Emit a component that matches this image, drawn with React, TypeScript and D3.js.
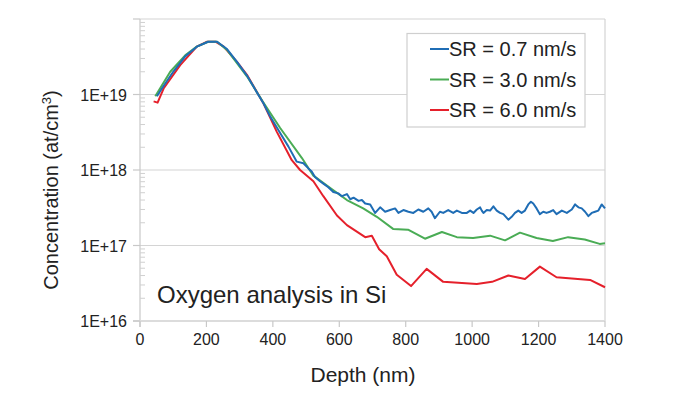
import React from "react";
import * as d3 from "d3";

// ---- Data (depth in nm, concentration in at/cm3) ----
const blueDepth = [51, 66, 100, 136, 171, 205, 232, 262, 292, 322, 372, 392, 422, 447, 472, 492, 507, 517, 527, 542, 552, 567, 582, 597, 608, 623, 633, 643, 658, 668, 678, 693, 708, 723, 738, 753, 768, 778, 793, 808, 823, 838, 853, 868, 878, 888, 903, 913, 928, 943, 954, 969, 984, 994, 1004, 1014, 1024, 1029, 1034, 1044, 1054, 1064, 1074, 1084, 1094, 1109, 1119, 1129, 1139, 1149, 1159, 1169, 1177, 1184, 1194, 1204, 1214, 1224, 1234, 1244, 1254, 1270, 1285, 1300, 1310, 1320, 1330, 1340, 1350, 1360, 1370, 1380, 1390, 1400];
const blueConc = [9.5e18, 1.2e19, 2.0e19, 3.2e19, 4.3e19, 5.0e19, 5.0e19, 4.0e19, 2.7e19, 1.78e19, 7.6e18, 5.1e18, 3.1e18, 2.04e18, 1.29e18, 1.23e18, 1.05e18, 9.55e17, 8.1e17, 7.1e17, 6.6e17, 5.9e17, 5.1e17, 4.9e17, 4.5e17, 4.8e17, 4.1e17, 4.3e17, 3.9e17, 4.0e17, 3.6e17, 3.5e17, 2.7e17, 3.2e17, 2.8e17, 2.95e17, 3.1e17, 2.7e17, 2.95e17, 2.8e17, 2.7e17, 3.0e17, 2.8e17, 3.1e17, 2.8e17, 2.3e17, 2.8e17, 2.7e17, 2.95e17, 2.7e17, 2.9e17, 2.7e17, 2.7e17, 2.9e17, 2.7e17, 3.0e17, 3.2e17, 2.9e17, 2.7e17, 2.95e17, 2.9e17, 3.3e17, 2.9e17, 2.7e17, 2.6e17, 2.2e17, 2.4e17, 2.7e17, 2.9e17, 2.7e17, 2.9e17, 3.5e17, 3.8e17, 3.6e17, 3.1e17, 2.6e17, 2.8e17, 2.7e17, 2.8e17, 2.95e17, 2.6e17, 2.9e17, 2.7e17, 3.0e17, 3.5e17, 3.2e17, 3.1e17, 2.8e17, 2.45e17, 2.7e17, 2.8e17, 2.9e17, 3.5e17, 3.1e17];

const greenDepth = [46, 91, 136, 171, 205, 232, 262, 322, 371, 422, 487, 521, 573, 623, 672, 713, 762, 807, 858, 909, 954, 1003, 1054, 1099, 1144, 1194, 1243, 1289, 1339, 1384, 1400];
const greenConc = [9.5e18, 2.0e19, 3.3e19, 4.3e19, 5.0e19, 5.0e19, 3.9e19, 1.74e19, 7.9e18, 3.6e18, 1.45e18, 8.5e17, 5.75e17, 4.0e17, 3.1e17, 2.4e17, 1.66e17, 1.62e17, 1.23e17, 1.51e17, 1.29e17, 1.26e17, 1.35e17, 1.17e17, 1.48e17, 1.26e17, 1.15e17, 1.29e17, 1.2e17, 1.05e17, 1.07e17];

const redDepth = [41, 53, 71, 121, 171, 202, 227, 252, 292, 322, 372, 412, 457, 482, 522, 552, 593, 623, 678, 698, 720, 743, 773, 816, 863, 913, 1014, 1060, 1109, 1159, 1204, 1254, 1355, 1400];
const redConc = [8.1e18, 7.8e18, 1.2e19, 2.45e19, 4.3e19, 5.0e19, 5.0e19, 4.3e19, 2.7e19, 1.82e19, 7.6e18, 3.2e18, 1.35e18, 1.0e18, 7.1e17, 4.5e17, 2.5e17, 1.86e17, 1.29e17, 1.35e17, 8.9e16, 7.2e16, 4.1e16, 2.9e16, 4.9e16, 3.3e16, 3.1e16, 3.3e16, 4.0e16, 3.6e16, 5.25e16, 3.8e16, 3.5e16, 2.8e16];

const seriesNames = ["SR = 0.7 nm/s", "SR = 3.0 nm/s", "SR = 6.0 nm/s"];
const seriesColors = ["#1f6db5", "#4aac55", "#e5202b"];

const xTicks = [0, 200, 400, 600, 800, 1000, 1200, 1400];
const yTicks = [1e16, 1e17, 1e18, 1e19, 1e20];
const yTickLabels = ["1E+16", "1E+17", "1E+18", "1E+19", ""];

const annotation = "Oxygen analysis in Si";

const FONT = "'Liberation Sans', Arial, Helvetica, sans-serif";

export default function App() {
  const left = 140, right = 605, top = 19, bottom = 321;
  const x = d3.scaleLinear().domain([0, 1400]).range([left, right]);
  const y = d3.scaleLog().domain([1e16, 1e20]).range([bottom, top]);

  const line = d3
    .line<[number, number]>()
    .x((d) => x(d[0]))
    .y((d) => y(d[1]));

  const series = [
    { d: blueDepth, c: blueConc },
    { d: greenDepth, c: greenConc },
    { d: redDepth, c: redConc },
  ];
  const drawOrder = [2, 1, 0];

  const minor: number[] = [];
  for (let e = 16; e < 20; e++) {
    for (let m = 2; m <= 9; m++) minor.push(m * Math.pow(10, e));
  }

  const gridColor = "#d4d4d4";
  const axisColor = "#c8c8c8";

  return (
    <svg
      width={678}
      height={394}
      style={{ position: "absolute", left: 0, top: 0, background: "#fff" }}
      fontFamily={FONT}
    >
      <rect x={0} y={0} width={678} height={394} fill="#fff" />
      {/* horizontal gridlines */}
      {yTicks.map((t, i) => (
        <line key={"g" + i} x1={left} x2={right} y1={y(t)} y2={y(t)} stroke={gridColor} strokeWidth={1.2} />
      ))}
      {/* right border */}
      <line x1={right} x2={right} y1={top} y2={bottom} stroke={gridColor} strokeWidth={1.2} />
      {/* y axis */}
      <line x1={left} x2={left} y1={top} y2={bottom + 6} stroke={axisColor} strokeWidth={1.2} />
      {/* x axis */}
      <line x1={left - 7} x2={right} y1={bottom} y2={bottom} stroke="#dcdcdc" strokeWidth={2} />
      {/* y major ticks */}
      {yTicks.map((t, i) => (
        <line key={"yt" + i} x1={left - 7} x2={left} y1={y(t)} y2={y(t)} stroke={axisColor} strokeWidth={1.2} />
      ))}
      {/* y minor ticks */}
      {minor.map((t, i) => (
        <line key={"ym" + i} x1={left} x2={left + 5} y1={y(t)} y2={y(t)} stroke="#d0d0d0" strokeWidth={1} />
      ))}
      {/* x ticks */}
      {xTicks.map((t, i) => (
        <line key={"xt" + i} x1={x(t)} x2={x(t)} y1={bottom} y2={bottom + 6} stroke={axisColor} strokeWidth={1.2} />
      ))}
      {/* x tick labels */}
      {xTicks.map((t, i) => (
        <text key={"xl" + i} x={x(t)} y={345} textAnchor="middle" fontSize={16} fill="#222">
          {t}
        </text>
      ))}
      {/* y tick labels */}
      {yTicks.map((t, i) => (
        <text key={"yl" + i} x={127} y={y(t) + 6} textAnchor="end" fontSize={16} fill="#222">
          {yTickLabels[i]}
        </text>
      ))}
      {/* axis titles */}
      <text x={363} y={382} textAnchor="middle" fontSize={21} fill="#222">
        Depth (nm)
      </text>
      <text transform="translate(58,190) rotate(-90)" textAnchor="middle" fontSize={20} fill="#222">
        Concentration (at/cm<tspan dy={-7} fontSize={13}>3</tspan>
        <tspan dy={7}>)</tspan>
      </text>
      {/* series */}
      {drawOrder.map((si) => {
        const s = series[si];
        const pts: [number, number][] = s.d.map((dv, k) => [dv, s.c[k]]);
        return (
          <path
            key={"s" + si}
            d={line(pts) || ""}
            fill="none"
            stroke={seriesColors[si]}
            strokeWidth={2}
            strokeLinejoin="round"
          />
        );
      })}
      {/* annotation */}
      <text x={157} y={303} fontSize={24} fill="#222">
        {annotation}
      </text>
      {/* legend */}
      <rect x={407} y={33.5} width={178} height={93.5} fill="#fff" stroke="#cfcfcf" strokeWidth={1.2} />
      {seriesNames.map((n, i) => (
        <g key={"lg" + i}>
          <line x1={430} x2={449} y1={49 + i * 30.5} y2={49 + i * 30.5} stroke={seriesColors[i]} strokeWidth={2} />
          <text x={449} y={56 + i * 30.5} fontSize={20} fill="#222">
            {n}
          </text>
        </g>
      ))}
    </svg>
  );
}
